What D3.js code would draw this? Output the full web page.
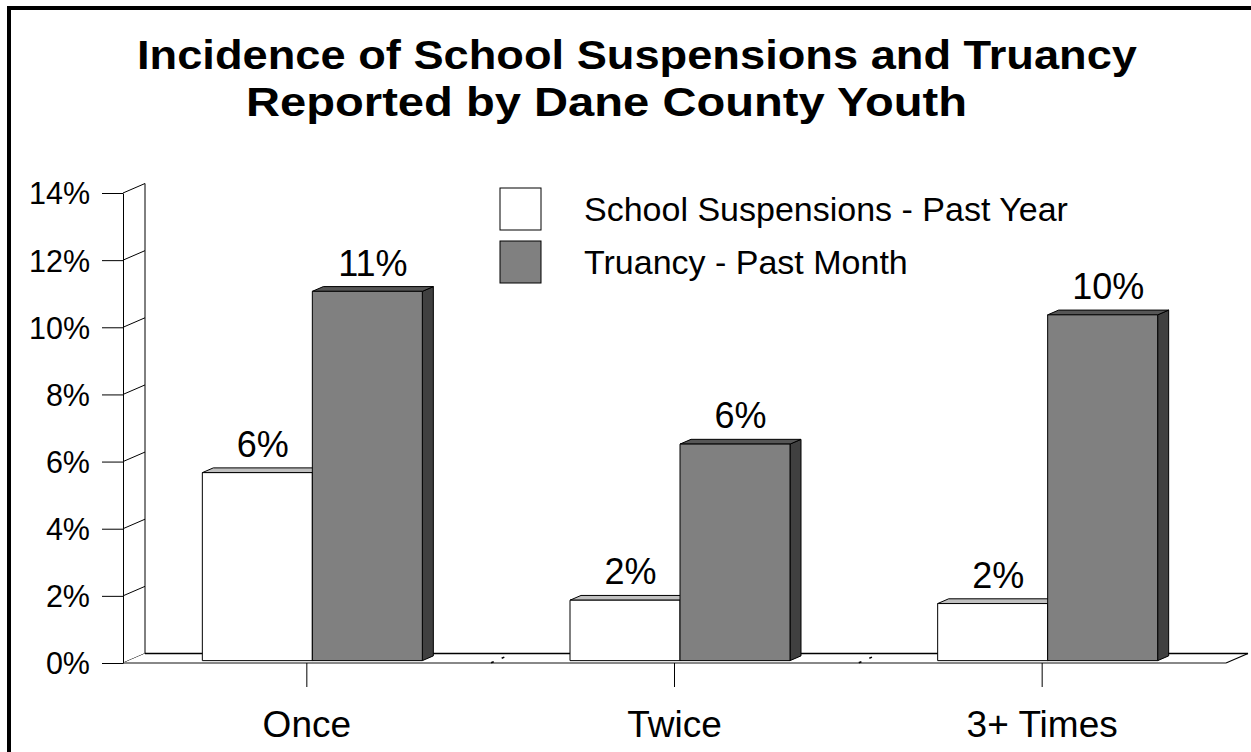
<!DOCTYPE html>
<html><head><meta charset="utf-8">
<script src="https://cdn.jsdelivr.net/npm/d3@7"></script>
<style>
body{margin:0;background:#fff}
svg{display:block}
text{font-family:"Liberation Sans",Arial,Helvetica,sans-serif;fill:#000}
</style>
</head><body><svg width="1251" height="752"></svg>
<script>
// ---- data ----
const categories = ["Once", "Twice", "3+ Times"];
const seriesNames = ["School Suspensions - Past Year", "Truancy - Past Month"];
const suspensions = [0.056, 0.018, 0.017];
const truancy = [0.110, 0.0645, 0.103];
const yTicks = [0, 0.02, 0.04, 0.06, 0.08, 0.10, 0.12, 0.14];
const titleLines = ["Incidence of School Suspensions and Truancy", "Reported by Dane County Youth"];

const seriesValues = [suspensions, truancy];
const seriesFront = ["#ffffff", "#808080"];
const seriesTop = ["#c0c0c0", "#565656"];
const seriesSide = ["#a0a0a0", "#404040"];

const svg = d3.select("svg");

// frame
svg.append("rect").attr("x", 9).attr("y", 8).attr("width", 1400).attr("height", 900)
  .attr("fill", "none").attr("stroke", "#000").attr("stroke-width", 4);

// title
svg.append("text").attr("x", 137).attr("y", 69).attr("font-size", 41).attr("font-weight", "bold")
  .attr("textLength", 1000).attr("lengthAdjust", "spacingAndGlyphs").text(titleLines[0]);
svg.append("text").attr("x", 246).attr("y", 116).attr("font-size", 41).attr("font-weight", "bold")
  .attr("textLength", 721).attr("lengthAdjust", "spacingAndGlyphs").text(titleLines[1]);

// scales
const floorY = 663, x0 = 123, x1 = 1226;
const D = [22, -9.5];
const P = (x, y, d) => [x + D[0] * d, y + D[1] * d];
const y = d3.scaleLinear().domain([0, 0.14]).range([floorY, 193]);
const x = d3.scaleBand().domain(categories).range([x0, x1]);
const barW = 110;
const xs = d3.scaleBand().domain(d3.range(seriesNames.length)).range([0, barW * seriesNames.length]);
const pts = a => a.map(p => p.join(",")).join(" ");

// left wall
const wall = svg.append("g");
wall.append("polygon").attr("points", pts([P(x0, y(0), 0), P(x0, y(0.14), 0), P(x0, y(0.14), 1), P(x0, y(0), 1)]))
  .attr("fill", "#fff").attr("stroke", "none");
wall.append("line").attr("x1", P(x0, 0, 1)[0]).attr("x2", P(x0, 0, 1)[0])
  .attr("y1", P(x0, y(0), 1)[1]).attr("y2", P(x0, y(0.14), 1)[1]).attr("stroke", "#000");
yTicks.forEach(t => {
  const a = P(x0, y(t), 0), b = P(x0, y(t), 1);
  wall.append("line").attr("x1", a[0]).attr("y1", a[1]).attr("x2", b[0]).attr("y2", b[1]).attr("stroke", "#000");
});

// floor
const fl = svg.append("g");
fl.append("polygon").attr("points", pts([P(x0, floorY, 0), P(x0, floorY, 1), P(x1, floorY, 1), P(x1, floorY, 0)]))
  .attr("fill", "#fff");
fl.append("line").attr("x1", P(x0, floorY, 1)[0]).attr("y1", P(x0, floorY, 1)[1])
  .attr("x2", P(x1, floorY, 1)[0]).attr("y2", P(x1, floorY, 1)[1]).attr("stroke", "#000").attr("stroke-width", 1.5);
fl.append("line").attr("x1", P(x1, floorY, 0)[0]).attr("y1", P(x1, floorY, 0)[1])
  .attr("x2", P(x1, floorY, 1)[0]).attr("y2", P(x1, floorY, 1)[1]).attr("stroke", "#000").attr("stroke-width", 1.2);
fl.append("line").attr("x1", x0).attr("y1", floorY).attr("x2", x1).attr("y2", floorY)
  .attr("stroke", "#888").attr("stroke-width", 2);
// tiny divider marks on floor
categories.slice(1).forEach(c => {
  const bx = x(c);
  [[0.02, 0.14], [0.5, 0.62]].forEach(([a, b]) => {
    const p1 = P(bx, floorY, a), p2 = P(bx, floorY, b);
    fl.append("line").attr("x1", p1[0]).attr("y1", p1[1]).attr("x2", p2[0]).attr("y2", p2[1]).attr("stroke", "#000").attr("stroke-width", 1.6);
  });
});

// y axis
const yAxis = svg.append("g").attr("transform", `translate(${x0},0)`)
  .call(d3.axisLeft(y).tickValues(yTicks).tickFormat(d3.format(".0%")).tickSize(21).tickSizeOuter(0).tickPadding(12));
yAxis.selectAll("path,line").attr("stroke", "#000");
yAxis.selectAll("text").attr("font-size", 30.5).attr("dy", "0.36em").attr("font-family", null);

// x axis
const xAxis = svg.append("g").attr("transform", `translate(0,${floorY})`)
  .call(d3.axisBottom(x).tickSize(24).tickSizeOuter(0));
xAxis.select(".domain").remove();
xAxis.selectAll("line").attr("stroke", "#000");
xAxis.selectAll("text").attr("font-size", 37).attr("y", 74).attr("dy", 0).attr("font-family", null);

// bars
const d0 = 0.25, d1 = 0.75;
const fmt = d3.format(".0%");
const bars = svg.append("g");
categories.forEach((c, i) => {
  const gx = x(c) + x.bandwidth() / 2 - xs.range()[1] / 2;
  seriesValues.forEach((vals, s) => {
    const v = vals[i];
    const bx0 = gx + xs(s), bx1 = bx0 + xs.bandwidth();
    const yt = y(v), yb = y(0);
    const g = bars.append("g");
    g.append("polygon").attr("points", pts([P(bx1, yt, d0), P(bx1, yt, d1), P(bx1, yb, d1), P(bx1, yb, d0)]))
      .attr("fill", seriesSide[s]).attr("stroke", "#000").attr("stroke-width", 1).attr("stroke-linejoin", "round");
    g.append("polygon").attr("points", pts([P(bx0, yt, d0), P(bx1, yt, d0), P(bx1, yt, d1), P(bx0, yt, d1)]))
      .attr("fill", seriesTop[s]).attr("stroke", "#000").attr("stroke-width", 1).attr("stroke-linejoin", "round");
    g.append("polygon").attr("points", pts([P(bx0, yt, d0), P(bx1, yt, d0), P(bx1, yb, d0), P(bx0, yb, d0)]))
      .attr("fill", seriesFront[s]).attr("stroke", "#000").attr("stroke-width", 1).attr("stroke-linejoin", "round");
    const lp = P((bx0 + bx1) / 2, yt, 0.5);
    svg.append("text").attr("x", lp[0]).attr("y", P(0, yt, d1)[1] - 11)
      .attr("text-anchor", "middle").attr("font-size", 36).text(fmt(v));
  });
});

// legend
const leg = svg.append("g");
seriesNames.forEach((n, s) => {
  leg.append("rect").attr("x", 500).attr("y", 188 + s * 53).attr("width", 41).attr("height", 42)
    .attr("fill", seriesFront[s]).attr("stroke", "#000").attr("stroke-width", 1);
  leg.append("text").attr("x", 584).attr("y", 221 + s * 53).attr("font-size", 34).text(n);
});
</script>
</body></html>
